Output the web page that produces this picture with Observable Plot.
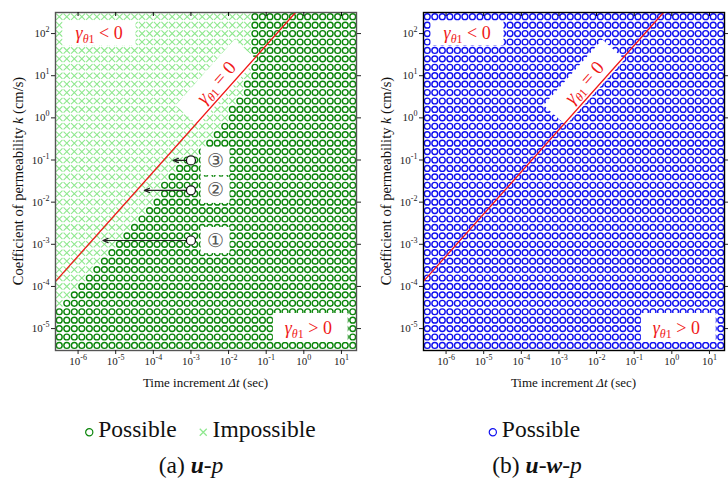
<!DOCTYPE html>
<html><head><meta charset="utf-8">
<script src="https://cdn.jsdelivr.net/npm/d3@7"></script>
<script src="https://cdn.jsdelivr.net/npm/@observablehq/plot@0.6"></script>
<style>
html,body{margin:0;padding:0;background:#fff;}
#root{position:relative;width:728px;height:480px;overflow:hidden;font-family:"Liberation Serif","Times New Roman",serif;color:#111;}
.pan{position:absolute;top:0;}
.txt{position:absolute;white-space:nowrap;font-size:23.5px;transform:translate(-50%,-50%);line-height:1;}
.txt svg{vertical-align:middle;margin-right:4px;}
</style></head><body><div id="root"></div>
<script>
// ---- grid of tested parameters (log10 values) ----
const dtExp = [-6.5,-6.3,-6.1,-5.9,-5.7,-5.5,-5.3,-5.1,-4.9,-4.7,-4.5,-4.3,-4.1,-3.9,-3.7,-3.5,-3.3,-3.1,-2.9,-2.7,-2.5,-2.3,-2.1,-1.9,-1.7,-1.5,-1.3,-1.1,-0.9,-0.7,-0.5,-0.3,-0.1,0.1,0.3,0.5,0.7,0.9,1.1,1.3];
const kExp = [-5.4,-5.2,-5.0,-4.8,-4.6,-4.4,-4.2,-4.0,-3.8,-3.6,-3.4,-3.2,-3.0,-2.8,-2.6,-2.4,-2.2,-2.0,-1.8,-1.6,-1.4,-1.2,-1.0,-0.8,-0.6,-0.4,-0.2,0.0,0.2,0.4,0.6,0.8,1.0,1.2,1.4,1.6,1.8,2.0,2.2,2.4];
// (a) u-p : smallest log10(dt) that is "Possible", one per kExp row
const possibleFromLogDt = [-6.5,-6.5,-6.5,-6.5,-6.5,-6.3,-6.1,-5.9,-5.7,-5.5,-5.3,-5.1,-4.9,-4.7,-4.5,-4.3,-4.1,-3.9,-3.7,-3.7,-3.5,-3.3,-3.1,-2.7,-2.5,-2.3,-2.1,-1.9,-1.9,-1.7,-1.5,-1.5,-1.3,-1.3,-1.3,-1.3,-1.3,-1.3,-1.3,-1.3];
// tick exponents
const xTickExp = [-6,-5,-4,-3,-2,-1,0,1];
const yTickExp = [-5,-4,-3,-2,-1,0,1,2];
// gamma_theta1 = 0 line (log10 values)
const zeroLineLogDt = [-6.6, -0.22];
const zeroLineLogK = [-3.88, 2.5];
// sign labels
const signText = ["γθ1 < 0", "γθ1 > 0"];
const signLogDt = [-5.44, 0.12];
const signLogK = [2.0, -5.0];
const signBoxLogDt1 = [-6.40, -0.81];
const signBoxLogDt2 = [-4.46, 1.18];
const signBoxLogK1 = [1.715, -5.33];
const signBoxLogK2 = [2.285, -4.64];
const zeroLabelLogDt = -2.33, zeroLabelLogK = 0.84, zeroLabelHalf = 0.78;
// step annotations (a)
const stepText = ["①","②","③"];
const stepLogK = [-2.91, -1.72, -1.01];
const stepFromLogDt = [-3.0, -3.0, -3.0];
const stepToLogDt = [-5.34, -4.24, -3.47];
const stepLabelLogDt = [-2.35, -2.35, -2.35];
const stepBoxLogDt1 = [-2.73, -2.73, -2.73];
const stepBoxLogDt2 = [-1.96, -1.96, -1.96];
const stepBoxLogK1 = [-3.22, -2.03, -1.37];
const stepBoxLogK2 = [-2.60, -1.41, -0.70];

const P = e => Math.pow(10, e);
const FONT = '"Liberation Serif","Times New Roman",serif';
const GREEN = "#0a850a", LIGHT = "#8fe88f", BLUE = "#1010f0", RED = "#f01818";

const gridA = [], gridB = [];
kExp.forEach((ke, r) => dtExp.forEach(de => {
  gridA.push({dt: P(de), k: P(ke), possible: de >= possibleFromLogDt[r] - 1e-9});
  gridB.push({dt: P(de), k: P(ke)});
}));
const zeroLine = zeroLineLogDt.map((d, i) => ({dt: P(d), k: P(zeroLineLogK[i])}));
const signs = signText.map((t, i) => ({t, dt: P(signLogDt[i]), k: P(signLogK[i]),
  x1: P(signBoxLogDt1[i]), x2: P(signBoxLogDt2[i]), y1: P(signBoxLogK1[i]), y2: P(signBoxLogK2[i])}));
const zeroBg = [-1, 1].map(s => ({dt: P(zeroLabelLogDt + s * zeroLabelHalf), k: P(zeroLabelLogK + s * zeroLabelHalf)}));
const zeroLabel = [{t: "γθ1 = 0", dt: P(zeroLabelLogDt), k: P(zeroLabelLogK)}];
const steps = stepText.map((t, i) => ({t, k: P(stepLogK[i]), from: P(stepFromLogDt[i]), to: P(stepToLogDt[i]),
  lx: P(stepLabelLogDt[i]), x1: P(stepBoxLogDt1[i]), x2: P(stepBoxLogDt2[i]), y1: P(stepBoxLogK1[i]), y2: P(stepBoxLogK2[i])}));
const xTicks = xTickExp.map(P), yTicks = yTickExp.map(P);

const W = 364, H = 395, MT = 12, MB = 45;
function panel(dataMarks, overlayMarks, ml, mr, frameColor) {
  const innerW = W - ml - mr, innerH = H - MT - MB;
  const svg = Plot.plot({
    width: W, height: H, marginTop: MT, marginBottom: MB, marginLeft: ml, marginRight: mr,
    x: {type: "log", domain: [P(-6.6), P(1.4)], label: null},
    y: {type: "log", domain: [P(-5.52), P(2.5)], label: null},
    style: {fontFamily: FONT, fontSize: "11px", color: "#222", background: "white"},
    marks: [
      ...dataMarks,
      Plot.rect(signs, {x1: "x1", x2: "x2", y1: "y1", y2: "y2", fill: "white"}),
      Plot.line(zeroBg, {x: "dt", y: "k", stroke: "white", strokeWidth: 30, strokeLinecap: "butt"}),
      Plot.line(zeroLine, {x: "dt", y: "k", stroke: RED, strokeWidth: 1.3, clip: true}),
      Plot.text(signs, {x: "dt", y: "k", text: "t", fill: RED, fontSize: 18, fontFamily: FONT}),
      Plot.text(zeroLabel, {x: "dt", y: "k", text: "t", fill: RED, fontSize: 19, fontFamily: FONT, rotate: -48.5}),
      ...overlayMarks,
      Plot.frame({stroke: frameColor, strokeWidth: 1.4}),
      Plot.axisX(xTicks, {tickSize: 4, tickPadding: 3, tickFormat: d => "10^" + Math.round(Math.log10(d)), label: null}),
      Plot.axisY(yTicks, {tickSize: 4, tickPadding: 2, tickFormat: d => "10^" + Math.round(Math.log10(d)), label: null}),
      Plot.axisY(yTicks, {anchor: "right", tickSize: 4, tickFormat: () => "", label: null}),
      Plot.tickX(xTicks, {x: d => d, insetBottom: innerH - 4, stroke: "#000"})
    ]
  });
  const root = d3.select(svg);
  root.selectAll("text").each(function() {
    const t = this.textContent;
    const m = /^10\^(-?\d+)$/.exec(t);
    if (m) {
      const s = d3.select(this); s.text("10");
      s.append("tspan").attr("font-size", "8px").attr("dy", "-5").text(m[1]);
      return;
    }
    const g = /^γθ1 (.) 0$/.exec(t);
    if (g) {
      const s = d3.select(this); s.text(null);
      s.append("tspan").attr("font-style", "italic").text("γ");
      s.append("tspan").attr("font-style", "italic").attr("font-size", "12px").attr("dy", "4").text("θ");
      s.append("tspan").attr("font-size", "12px").text("1");
      s.append("tspan").attr("dy", "-4").text(" " + g[1] + " 0");
    }
  });
  const lab = root.append("g").attr("font-family", FONT).attr("fill", "#111");
  const yl = lab.append("text").attr("font-size", 14.5).attr("text-anchor", "middle").attr("dy", "0.35em")
    .attr("transform", `translate(${ml - 37},${MT + innerH / 2}) rotate(-90)`);
  yl.append("tspan").text("Coefficient of permeability ");
  yl.append("tspan").attr("font-style", "italic").text("k");
  yl.append("tspan").text(" (cm/s)");
  const xl = lab.append("text").attr("font-size", 13).attr("text-anchor", "middle")
    .attr("x", ml + innerW / 2).attr("y", H - 8);
  xl.append("tspan").text("Time increment ");
  xl.append("tspan").attr("font-style", "italic").text("Δt");
  xl.append("tspan").text(" (sec)");
  return svg;
}

const left = panel(
  [
    Plot.dot(gridA.filter(d => !d.possible), {x: "dt", y: "k", symbol: "times", r: 3, stroke: LIGHT, strokeWidth: 1.1}),
    Plot.dot(gridA.filter(d => d.possible), {x: "dt", y: "k", r: 2.9, stroke: GREEN, strokeWidth: 1.4})
  ],
  [
    Plot.rect(steps, {x1: "x1", x2: "x2", y1: "y1", y2: "y2", fill: "white"}),
    Plot.arrow(steps, {x1: "from", y1: "k", x2: "to", y2: "k", stroke: "#222", strokeWidth: 1.2, headLength: 7, headAngle: 45}),
    Plot.dot(steps, {x: "from", y: "k", r: 4.5, fill: "white", stroke: "#111", strokeWidth: 1.2}),
    Plot.text(steps, {x: "lx", y: "k", text: "t", fontSize: 19, fill: "#555", fontFamily: FONT})
  ],
  55, 8, "#555"
);
const right = panel(
  [Plot.dot(gridB, {x: "dt", y: "k", r: 2.9, stroke: BLUE, strokeWidth: 1.4})],
  [],
  59, 4, "#000"
);

const rootEl = document.getElementById("root");
const pl = document.createElement("div"); pl.className = "pan"; pl.style.left = "0px"; pl.appendChild(left); rootEl.appendChild(pl);
const pr = document.createElement("div"); pr.className = "pan"; pr.style.left = "364px"; pr.appendChild(right); rootEl.appendChild(pr);

const circ = c => `<svg width="10" height="10"><circle cx="5" cy="5" r="3.6" fill="none" stroke="${c}" stroke-width="1.2"/></svg>`;
const cross = c => `<svg width="10" height="10"><path d="M1.5,1.5L8.5,8.5M8.5,1.5L1.5,8.5" stroke="${c}" stroke-width="1.3"/></svg>`;
function addTxt(html, x, y) {
  const d = document.createElement("div"); d.className = "txt"; d.style.left = x + "px"; d.style.top = y + "px";
  d.innerHTML = html; rootEl.appendChild(d);
}
addTxt(`${circ(GREEN)}Possible<span style="display:inline-block;width:22px"></span>${cross(LIGHT)}Impossible`, 200, 430);
addTxt(`${circ(BLUE)}Possible`, 534, 430);
addTxt(`(a) <b><i>u</i></b>-<i>p</i>`, 191, 466);
addTxt(`(b) <b><i>u</i></b>-<b><i>w</i></b>-<i>p</i>`, 537, 466);
</script></body></html>
